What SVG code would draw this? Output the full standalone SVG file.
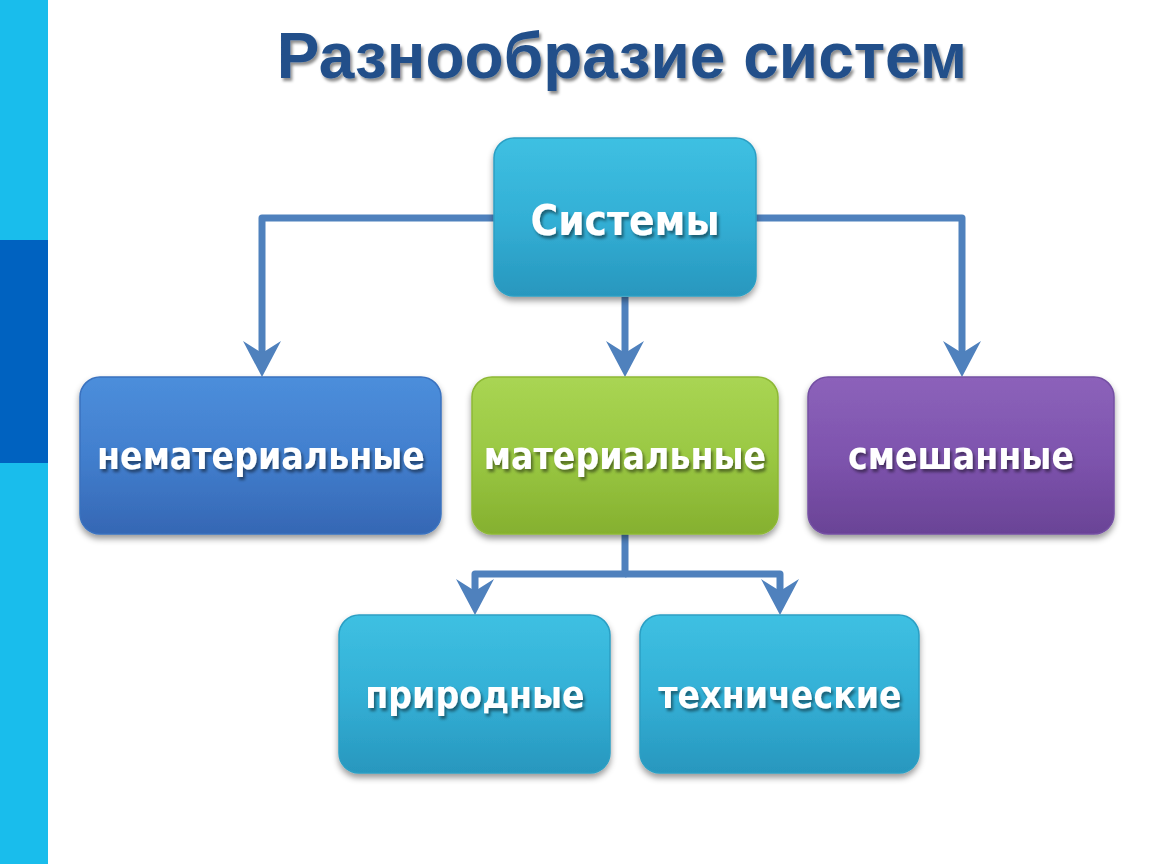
<svg xmlns="http://www.w3.org/2000/svg" width="1150" height="864" viewBox="0 0 1150 864">
  <defs>
    <style>
      .title { font-family: "Liberation Sans", Arial, sans-serif; font-weight: bold; font-size: 64px; fill: #22508A; text-anchor: middle; }
      .lbl { font-family: "DejaVu Sans Condensed", "DejaVu Sans", sans-serif; font-stretch: condensed; font-weight: bold; font-size: 37px; fill: #FFFFFF; text-anchor: middle; }
      .big { font-size: 42px; }
      .conn { fill: none; stroke: #4F81BD; stroke-width: 7; stroke-linejoin: round; }
      .box { stroke-width: 1.5; }
    </style>
    <filter id="tsh" x="-10%" y="-30%" width="120%" height="160%">
      <feDropShadow dx="2" dy="3" stdDeviation="1.5" flood-color="#000" flood-opacity="0.45"/>
    </filter>
    <filter id="bsh" x="-10%" y="-10%" width="120%" height="130%">
      <feDropShadow dx="0" dy="4" stdDeviation="3" flood-color="#000" flood-opacity="0.4"/>
    </filter>
    <linearGradient id="gCyan" x1="0" y1="0" x2="0" y2="1">
      <stop offset="0" stop-color="#3EC0E2"/>
      <stop offset="0.5" stop-color="#33B0D6"/>
      <stop offset="1" stop-color="#2897BE"/>
    </linearGradient>
    <linearGradient id="gBlue" x1="0" y1="0" x2="0" y2="1">
      <stop offset="0" stop-color="#4C8EDB"/>
      <stop offset="0.5" stop-color="#427FCE"/>
      <stop offset="1" stop-color="#3567B4"/>
    </linearGradient>
    <linearGradient id="gGreen" x1="0" y1="0" x2="0" y2="1">
      <stop offset="0" stop-color="#A9D553"/>
      <stop offset="0.5" stop-color="#9AC843"/>
      <stop offset="1" stop-color="#85B02F"/>
    </linearGradient>
    <linearGradient id="gPurple" x1="0" y1="0" x2="0" y2="1">
      <stop offset="0" stop-color="#8C62BA"/>
      <stop offset="0.5" stop-color="#7E54AE"/>
      <stop offset="1" stop-color="#6A4396"/>
    </linearGradient>
    <marker id="arr" markerUnits="userSpaceOnUse" markerWidth="36" markerHeight="38" viewBox="0 0 36 38" refX="20" refY="19" orient="auto">
      <path d="M0 0 L36 19 L0 38 L12 19 Z" fill="#4F81BD"/>
    </marker>
  </defs>

  <rect x="0" y="0" width="1150" height="864" fill="#FFFFFF"/>
  <g id="sidebar">
    <rect x="0" y="0" width="48" height="864" fill="#19BDEC"/>
    <rect x="0" y="240" width="48" height="223" fill="#0062C0"/>
  </g>

  <g id="title">
    <text class="title" x="622" y="78" filter="url(#tsh)">Разнообразие систем</text>
  </g>

  <g id="connectors">
    <path class="conn" d="M494 218 H262 V361" marker-end="url(#arr)"/>
    <path class="conn" d="M756 218 H962 V361" marker-end="url(#arr)"/>
    <path class="conn" d="M625 297 V361" marker-end="url(#arr)"/>
    <path class="conn" d="M625 534 V574 H475 V599" marker-end="url(#arr)"/>
    <path class="conn" d="M625 574 H780 V599" marker-end="url(#arr)"/>
  </g>

  <g id="node-sistemy">
    <rect class="box" x="494" y="138" width="262" height="158" rx="20" fill="url(#gCyan)" stroke="#2C9FC4" filter="url(#bsh)"/>
    <text class="lbl big" x="625" y="235" filter="url(#tsh)">Системы</text>
  </g>
  <g id="node-nematerialnye">
    <rect class="box" x="80" y="377" width="361" height="157" rx="20" fill="url(#gBlue)" stroke="#3A72BF" filter="url(#bsh)"/>
    <text class="lbl" x="261" y="469" filter="url(#tsh)">нематериальные</text>
  </g>
  <g id="node-materialnye">
    <rect class="box" x="472" y="377" width="306" height="157" rx="20" fill="url(#gGreen)" stroke="#8DB835" filter="url(#bsh)"/>
    <text class="lbl" x="625" y="469" filter="url(#tsh)">материальные</text>
  </g>
  <g id="node-smeshannye">
    <rect class="box" x="808" y="377" width="306" height="157" rx="20" fill="url(#gPurple)" stroke="#7450A3" filter="url(#bsh)"/>
    <text class="lbl" x="961" y="469" filter="url(#tsh)">смешанные</text>
  </g>
  <g id="node-prirodnye">
    <rect class="box" x="339" y="615" width="271" height="158" rx="20" fill="url(#gCyan)" stroke="#2C9FC4" filter="url(#bsh)"/>
    <text class="lbl" x="475" y="708" filter="url(#tsh)">природные</text>
  </g>
  <g id="node-tehnicheskie">
    <rect class="box" x="640" y="615" width="279" height="158" rx="20" fill="url(#gCyan)" stroke="#2C9FC4" filter="url(#bsh)"/>
    <text class="lbl" x="780" y="708" filter="url(#tsh)">технические</text>
  </g>
</svg>
